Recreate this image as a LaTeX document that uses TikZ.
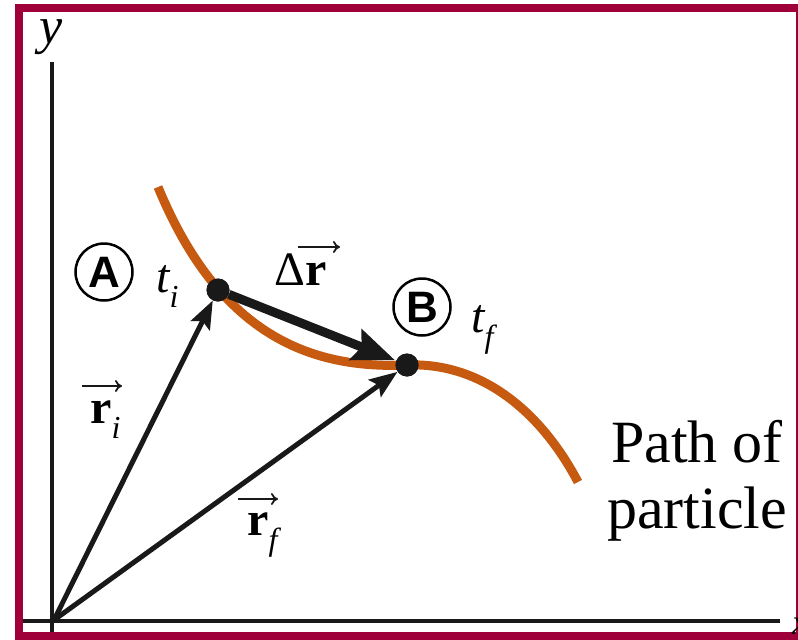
\documentclass[tikz,border=0pt]{standalone}
\usepackage{fontspec}
\setmainfont{Liberation Serif}
\newfontfamily\lsans{Liberation Sans}
\usetikzlibrary{arrows.meta}
\definecolor{frameRed}{HTML}{A0003A}
\definecolor{pathOrange}{HTML}{C65A11}
\newcommand{\sub}[1]{\raisebox{-0.32em}{\fontsize{32}{32}\selectfont\itshape #1}}
\tikzset{
  axis/.style={line width=4pt, black!90},
  vec/.style={line width=5pt, black!90, -{Stealth[length=28pt,width=21pt,inset=5pt]}},
  bigvec/.style={line width=9pt, black!90, -{Stealth[length=42pt,width=32pt,inset=6pt]}, shorten >=1pt},
  overarrow/.style={line width=1.8pt, black!90, -{To[length=7pt,width=12pt]}},
  dot/.style={circle, fill=black!90, minimum size=23pt, inner sep=0pt},
  circlbl/.style={circle, draw, line width=2.5pt, minimum size=57pt, inner sep=0pt, font=\lsans\bfseries\fontsize{44}{44}\selectfont},
  lbl/.style={inner sep=0pt, anchor=base west, font=\fontsize{48}{50}\selectfont},
}
\begin{document}
\begin{tikzpicture}[x=1pt,y=-1pt]
\useasboundingbox (0,0) rectangle (798,640);
% frame
\fill[frameRed] (15,4) rectangle (798,12);
\fill[frameRed] (15,4) rectangle (23,640);
\fill[frameRed] (15,632) rectangle (798,640);
\fill[frameRed] (796,4) rectangle (798,640);
% axes
\coordinate (O) at (54,620);
\coordinate (xl) at (23,621);
\coordinate (xr) at (780,621);
\coordinate (yt) at (52,62);
\coordinate (yb) at (52,632);
\draw[axis] (xl) -- (xr);
\draw[axis] (yt) -- (yb);
\node[lbl, font=\itshape\fontsize{52}{52}\selectfont] (ylab) at (39,43) {y};
\node[lbl, font=\itshape\fontsize{36}{36}\selectfont] (xlab) at (792,634) {x};
% path of particle
\draw[pathOrange, line width=9pt] (158,187) .. controls (215,325) and (300,370) .. (407,365)
  .. controls (480,362) and (540,410) .. (578,482);
% points
\node[dot] (A) at (218,290) {};
\node[dot] (B) at (407,365) {};
% vectors
\draw[vec] (O) -- (A);
\draw[vec] (O) -- (B);
\draw[bigvec] (A) -- (B);
\node[dot] at (A) {};
\node[dot] at (B) {};
% labels
\node[circlbl] (cA) at (104,272) {A};
\node[circlbl] (cB) at (422,307) {B};
\node[lbl] (ti) at (156,292) {\itshape t\sub{i}};
\node[lbl] (tf) at (471,332) {\itshape t\sub{f}};
\node[lbl] (dr) at (274,285) {\char"0394\textbf{r}};
\draw[overarrow] ([shift={(24,-38)}]dr.base west) -- ++(42,0);
\node[lbl] (ri) at (90,423) {\textbf{r}\sub{i}};
\draw[overarrow] ([shift={(-8,-37)}]ri.base west) -- ++(40,0);
\node[lbl] (rf) at (247,535) {\textbf{r}\sub{f}};
\draw[overarrow] ([shift={(-9,-36)}]rf.base west) -- ++(40,0);
\node[lbl, font=\fontsize{60}{70}\selectfont] (p1) at (611,462) {Path of};
\node[lbl, font=\fontsize{60}{70}\selectfont] (p2) at (607,528) {particle};
\end{tikzpicture}
\end{document}
